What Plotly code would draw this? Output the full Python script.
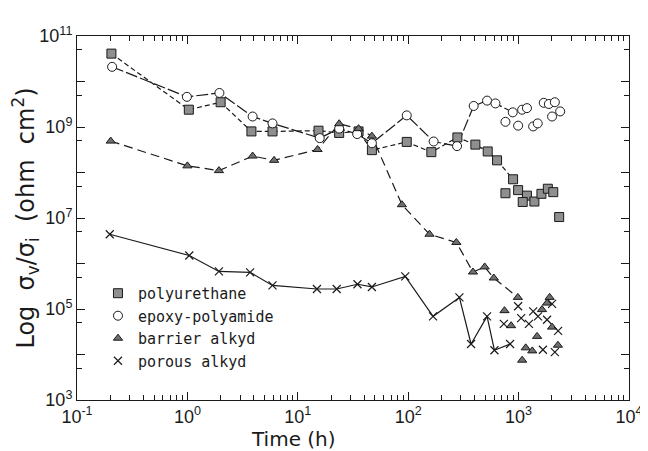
import plotly.graph_objects as go

# ---------------- data (time in h, value in ohm cm^2) ----------------
# polyurethane
pu_line_t = [0.205, 1.03, 2.0, 3.8, 5.9, 15.4, 23.7, 35.5, 46.9, 97, 162, 279, 406, 525, 638, 891]
pu_line_v = [4.1e10, 2.4e9, 3.5e9, 8.0e8, 8.0e8, 8.3e8, 7.4e8, 8.0e8, 3.1e8, 4.7e8, 2.8e8, 5.9e8, 4.1e8, 2.9e8, 1.85e8, 7.1e7]
pu_pts_t = [760, 990, 1190, 1090, 1390, 1610, 1840, 2060, 2330]
pu_pts_v = [3.5e7, 4.1e7, 3.1e7, 2.25e7, 2.3e7, 3.4e7, 4.4e7, 3.7e7, 1.05e7]

# epoxy-polyamide
ep_line_t = [0.208, 0.99, 1.95, 3.9, 5.9, 15.8, 23.7, 34.5, 46.9, 97, 170, 277, 392, 518, 617, 885]
ep_line_v = [2.1e10, 4.6e9, 5.6e9, 1.7e9, 1.2e9, 5.7e8, 9.2e8, 7.0e8, 4.4e8, 1.8e9, 4.8e8, 3.8e8, 2.9e9, 3.8e9, 3.3e9, 2.1e9]
ep_pts_t = [760, 990, 1077, 1190, 1355, 1490, 1690, 1880, 2130, 2010, 2380]
ep_pts_v = [1.3e9, 1.07e9, 2.4e9, 2.6e9, 1.03e9, 1.2e9, 3.4e9, 3.2e9, 3.5e9, 1.7e9, 2.2e9]

# barrier alkyd
ba_line_t = [0.202, 1.0, 1.93, 3.9, 6.1, 15.1, 23.7, 35.5, 46.9, 87.7, 156, 273, 386, 493, 596, 984]
ba_line_v = [4.9e8, 1.4e8, 1.1e8, 2.3e8, 1.85e8, 3.2e8, 1.18e9, 9.2e8, 6.3e8, 1.96e7, 4.4e6, 2.9e6, 6.5e5, 8.4e5, 4.8e5, 1.8e5]
ba_pts_t = [745, 855, 1470, 1160, 1330, 1077, 1630, 1810, 1910, 2010, 2270]
ba_pts_v = [9.2e4, 4.3e4, 2.5e4, 1.4e4, 1.2e4, 7.5e3, 9.7e4, 1.35e5, 1.8e5, 4.0e4, 1.6e4]

# porous alkyd
po_line_t = [0.198, 1.04, 1.93, 3.7, 5.9, 14.9, 22.5, 34.7, 46.9, 94, 168, 291, 371, 518, 604, 837]
po_line_v = [4.4e6, 1.5e6, 6.7e5, 6.4e5, 3.3e5, 2.75e5, 2.75e5, 3.5e5, 3.05e5, 5.2e5, 6.9e4, 1.8e5, 1.7e4, 6.9e4, 1.24e4, 1.7e4]
po_pts_t = [735, 990, 1055, 1240, 1355, 1500, 1810, 2010, 2280, 1660, 2130]
po_pts_v = [4.7e4, 1.15e5, 6.3e4, 4.7e4, 8.9e4, 6.9e4, 5.8e4, 1.3e5, 3.3e4, 1.27e4, 1.13e4]

names = ["polyurethane", "epoxy-polyamide", "barrier alkyd", "porous alkyd"]

x_major = [0.1, 1, 10, 100, 1000, 10000]
x_labels = ["10<sup>-1</sup>", "10<sup>0</sup>", "10<sup>1</sup>", "10<sup>2</sup>", "10<sup>3</sup>", "10<sup>4</sup>"]
y_major = [1e3, 1e4, 1e5, 1e6, 1e7, 1e8, 1e9, 1e10, 1e11]
y_labels = ["10<sup>3</sup>", "", "10<sup>5</sup>", "", "10<sup>7</sup>", "", "10<sup>9</sup>", "", "10<sup>11</sup>"]

x_title = "Time (h)"
y_title = "Log\u00a0\u00a0σ<sub>v</sub>/σ<sub>i</sub>\u00a0\u00a0(ohm\u00a0\u00a0cm<sup>2</sup>)"

# ---------------- styles ----------------
INK = "#1a1a1a"
markers = [
    dict(symbol="square", size=9, color="#8f8f8f", line=dict(color=INK, width=1)),
    dict(symbol="circle", size=9, color="white", line=dict(color=INK, width=1)),
    dict(symbol="triangle-up", size=8, color="#6f6f6f", line=dict(color=INK, width=1)),
    dict(symbol="x-thin-open", size=8, color=INK, line=dict(color=INK, width=1.2)),
]
dashes = ["5px,3px", "12px,3px", "9px,5px", "solid"]

series = [
    (pu_line_t, pu_line_v, pu_pts_t, pu_pts_v),
    (ep_line_t, ep_line_v, ep_pts_t, ep_pts_v),
    (ba_line_t, ba_line_v, ba_pts_t, ba_pts_v),
    (po_line_t, po_line_v, po_pts_t, po_pts_v),
]

fig = go.Figure()
# lines first (under markers)
for i, (lt, lv, pt, pv) in enumerate(series):
    fig.add_trace(go.Scatter(x=lt, y=lv, mode="lines", showlegend=False,
                             line=dict(color=INK, width=1.2, dash=dashes[i]),
                             hoverinfo="skip"))
for i, (lt, lv, pt, pv) in enumerate(series):
    fig.add_trace(go.Scatter(x=lt, y=lv, mode="markers", showlegend=False,
                             marker=markers[i], name=names[i]))
    fig.add_trace(go.Scatter(x=pt, y=pv, mode="markers", showlegend=True,
                             marker=markers[i], name=names[i]))

minor_x = [k * 10 ** n for n in range(-1, 4) for k in range(2, 10)]
minor_y = [5 * 10 ** n for n in range(2, 11)]

axis_common = dict(
    type="log", showgrid=False, zeroline=False, showline=True,
    linecolor=INK, linewidth=1, mirror="ticks", ticks="inside",
    tickcolor=INK, tickwidth=1, ticklen=8,
    tickfont=dict(family="Liberation Sans, Arial, sans-serif", size=18, color=INK),
)

fig.update_xaxes(
    **axis_common, range=[-1, 4], tickmode="array", tickvals=x_major, ticktext=x_labels,
    minor=dict(tickmode="array", tickvals=minor_x, ticks="inside", ticklen=5, tickcolor=INK, tickwidth=1),
)
fig.update_yaxes(
    **axis_common, range=[3, 11], tickmode="array", tickvals=y_major, ticktext=y_labels,
    minor=dict(tickmode="array", tickvals=minor_y, ticks="inside", ticklen=5, tickcolor=INK, tickwidth=1),
    title=dict(text=y_title, font=dict(family="DejaVu Sans, sans-serif", size=24, color=INK), standoff=2),
)

fig.add_annotation(text=x_title, xref="paper", yref="paper", x=0.393, y=-0.108,
                   xanchor="center", yanchor="middle", showarrow=False,
                   font=dict(family="DejaVu Sans, sans-serif", size=20, color=INK))

fig.update_layout(
    width=648, height=451,
    margin=dict(l=69, r=27, t=28, b=59),
    paper_bgcolor="white", plot_bgcolor="white",
    showlegend=True,
    legend=dict(x=0.038, y=0.338, xanchor="left", yanchor="top",
                bgcolor="rgba(0,0,0,0)", borderwidth=0,
                font=dict(family="DejaVu Sans Mono, monospace", size=15, color=INK),
                tracegroupgap=0, itemwidth=30),
)

fig.write_html("out.html")
